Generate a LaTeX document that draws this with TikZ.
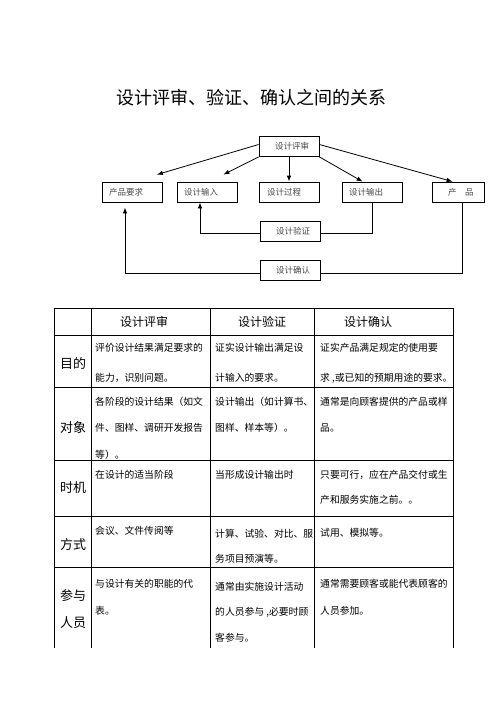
\documentclass[tikz,border=0pt]{standalone}
\usepackage{fontspec}
\newfontfamily\cjk{Noto Sans CJK SC}
\usetikzlibrary{arrows.meta,calc}
\newcommand\boxtxt[2]{\makebox[#1][l]{#2}}
\begin{document}
\begin{tikzpicture}[x=1pt,y=-1pt,
  box/.style={draw=black,line width=0.8pt,minimum width=60pt,minimum height=20pt,inner sep=0pt,
    font=\cjk\fontsize{8.5}{10}\selectfont,text=black!72},
  conn/.style={line width=0.8pt,-{Latex[length=6pt,width=4.5pt]}},
  plain/.style={line width=0.8pt},
  grid/.style={line width=0.8pt},
  cell/.style={anchor=west,inner sep=0pt,font=\cjk\fontsize{9.8}{12}\selectfont},
  head/.style={inner sep=0pt,font=\cjk\fontsize{12}{14}\selectfont},
  rowlab/.style={inner sep=0pt,font=\cjk\fontsize{13}{15}\selectfont}]
\useasboundingbox (0,0) rectangle (496,702);

% title
\node[inner sep=0pt,font=\cjk\fontsize{18}{20}\selectfont] (title) at (251.5,98) {设计评审、验证、确认之间的关系};

% diagram
\node[box] (rev) at (289,146.5) {\boxtxt{28pt}{设计评审}};
\node[box] (req) at (132.5,192) {\boxtxt{47pt}{产品要求}};
\node[box] (inp) at (207,192) {\boxtxt{46pt}{设计输入}};
\node[box] (proc) at (289,192) {\boxtxt{44pt}{设计过程}};
\node[box] (out) at (372,192) {\boxtxt{46pt}{设计输出}};
\node[box,minimum width=52pt] (prod) at (458,192) {\boxtxt{20pt}{产\hspace{8.5pt}品}};
\node[box] (ver) at (290,231) {\boxtxt{28pt}{设计验证}};
\node[box] (val) at (290,270) {\boxtxt{28pt}{设计确认}};

\draw[conn] ([yshift=2pt]rev.west) -- ([xshift=-6pt,yshift=7pt]req.north east);
\draw[conn] (rev.south west) -- ([xshift=-14pt,yshift=7pt]inp.north east);
\draw[conn] (rev) -- (proc);
\draw[conn] (rev.south east) -- ([xshift=21pt]out.north west);
\draw[conn] ([yshift=2pt]rev.east) -- ([xshift=21pt]prod.north west);

\draw[plain] (out.south) |- ([yshift=-2pt]ver.east);
\draw[conn] ([yshift=-2pt]ver.west) -| ([xshift=-7pt]inp.south);
\draw[plain] ([xshift=4pt]prod.south) |- ([yshift=-3pt]val.east);
\draw[conn] ([yshift=-3pt]val.west) -| ([xshift=-7.5pt,yshift=-5pt]req.south);

% table grid
\draw[grid] (54,308) -- (453,308);
\draw[grid] (54,335) -- (453,335);
\draw[grid] (54,387) -- (453,387);
\draw[grid] (54,460) -- (453,460);
\draw[grid] (54,516) -- (453,516);
\draw[grid] (54,567) -- (453,567);
\foreach \xx in {54,91,210,314,453} \draw[grid] (\xx,308) -- (\xx,648);

% headers
\node[head] (h1) at (144,322) {设计评审};
\node[head] (h2) at (262,322) {设计验证};
\node[head] (h3) at (368,322) {设计确认};

% row labels
\node[rowlab] (r1) at (73,363) {目的};
\node[rowlab] (r2) at (73,428) {对象};
\node[rowlab] (r3) at (73,488) {时机};
\node[rowlab] (r4) at (73,545) {方式};
\node[rowlab] (r5a) at (73,596) {参与};
\node[rowlab] (r5b) at (73,623) {人员};

% row 目的
\node[cell] (a11) at (95,348) {评价设计结果满足要求的};
\node[cell] (a12) at (95,378) {能力，识别问题。};
\node[cell] (a21) at (215,348) {证实设计输出满足设};
\node[cell] (a22) at (215,378) {计输入的要求。};
\node[cell] (a31) at (320,348) {证实产品满足规定的使用要};
\node[cell] (a32) at (320,378) {求 ,或已知的预期用途的要求。};

% row 对象
\node[cell] (b11) at (95,402) {各阶段的设计结果（如文};
\node[cell] (b12) at (95,428) {件、图样、调研开发报告};
\node[cell] (b13) at (95,455) {等）。};
\node[cell] (b21) at (215,402) {设计输出（如计算书、};
\node[cell] (b22) at (215,428) {图样、样本等）。};
\node[cell] (b31) at (320,402) {通常是向顾客提供的产品或样};
\node[cell] (b32) at (320,428) {品。};

% row 时机
\node[cell] (c11) at (95,475) {在设计的适当阶段};
\node[cell] (c21) at (215,475) {当形成设计输出时};
\node[cell] (c31) at (320,475) {只要可行，应在产品交付或生};
\node[cell] (c32) at (320,500) {产和服务实施之前。。};

% row 方式
\node[cell] (d11) at (95,531) {会议、文件传阅等};
\node[cell] (d21) at (215,534) {计算、试验、对比、服};
\node[cell] (d22) at (215,559) {务项目预演等。};
\node[cell] (d31) at (320,533) {试用、模拟等。};

% row 参与人员
\node[cell] (e11) at (95,584) {与设计有关的职能的代};
\node[cell] (e12) at (95,611) {表。};
\node[cell] (e21) at (215,587) {通常由实施设计活动};
\node[cell] (e22) at (215,612) {的人员参与 ,必要时顾};
\node[cell] (e23) at (215,638) {客参与。};
\node[cell] (e31) at (320,584) {通常需要顾客或能代表顾客的};
\node[cell] (e32) at (320,611) {人员参加。};
\end{tikzpicture}
\end{document}
